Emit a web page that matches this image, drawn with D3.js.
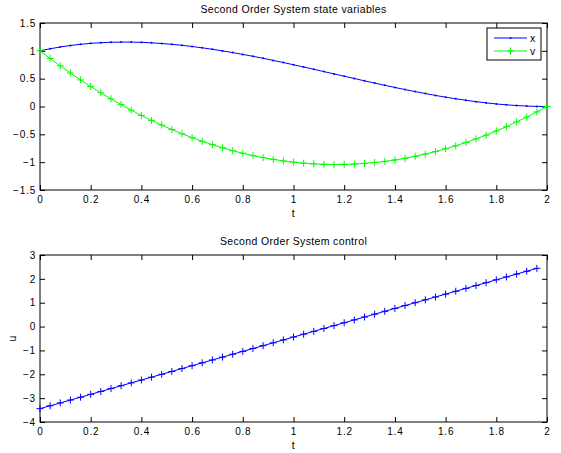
<!DOCTYPE html>
<html>
<head>
<meta charset="utf-8">
<script src="https://cdn.jsdelivr.net/npm/d3@7"></script>
<style>
  body { margin: 0; background: #fff; }
  svg { display: block; font-family: "Liberation Sans", Arial, sans-serif; }
  .tick text { font-size: 10px; fill: #000; letter-spacing: 0.8px; }
  .lbl { letter-spacing: 0.35px; }
</style>
</head>
<body>
<svg id="fig" width="561" height="453"></svg>
<script>

// time grid for the state plot
const t_state = [0, 0.04, 0.08, 0.12, 0.16, 0.2, 0.24, 0.28, 0.32, 0.36, 0.4, 0.44, 0.48, 0.52, 0.56, 0.6,
    0.64, 0.68, 0.72, 0.76, 0.8, 0.84, 0.88, 0.92, 0.96, 1, 1.04, 1.08, 1.12, 1.16, 1.2, 1.24, 1.28, 1.32,
    1.36, 1.4, 1.44, 1.48, 1.52, 1.56, 1.6, 1.64, 1.68, 1.72, 1.76, 1.8, 1.84, 1.88, 1.92, 1.96, 2];

const x_vals = [1, 1.037, 1.069, 1.096, 1.117, 1.134, 1.146, 1.154, 1.157, 1.157, 1.152, 1.144, 1.132, 1.117,
    1.099, 1.078, 1.054, 1.028, 0.999, 0.969, 0.936, 0.902, 0.866, 0.828, 0.790, 0.75, 0.710, 0.669, 0.627,
    0.586, 0.544, 0.503, 0.461, 0.421, 0.381, 0.342, 0.304, 0.268, 0.233, 0.199, 0.168, 0.139, 0.112, 0.087,
    0.065, 0.046, 0.030, 0.017, 0.008, 0.002, 0];

const v_vals = [1, 0.862, 0.730, 0.602, 0.478, 0.36, 0.246, 0.138, 0.034, -0.066, -0.16, -0.250, -0.334, -0.414,
    -0.490, -0.56, -0.626, -0.686, -0.742, -0.794, -0.84, -0.882, -0.918, -0.950, -0.978, -1, -1.018, -1.030,
    -1.038, -1.042, -1.04, -1.034, -1.022, -1.006, -0.986, -0.96, -0.930, -0.894, -0.854, -0.810, -0.76,
    -0.706, -0.646, -0.582, -0.514, -0.44, -0.362, -0.278, -0.190, -0.098, 0];

// control is piecewise on the intervals, so one point fewer
const t_ctrl = t_state.slice(0, 50);

const u_vals = [-3.44, -3.32, -3.20, -3.08, -2.96, -2.84, -2.72, -2.60, -2.48, -2.36, -2.24, -2.12, -2.00,
    -1.88, -1.76, -1.64, -1.52, -1.40, -1.28, -1.16, -1.04, -0.92, -0.80, -0.68, -0.56, -0.44, -0.32, -0.20,
    -0.08, 0.04, 0.16, 0.28, 0.40, 0.52, 0.64, 0.76, 0.88, 1.00, 1.12, 1.24, 1.36, 1.48, 1.60, 1.72, 1.84,
    1.96, 2.08, 2.20, 2.32, 2.44];

const x_ticks = [0, 0.2, 0.4, 0.6, 0.8, 1, 1.2, 1.4, 1.6, 1.8, 2];
const y_ticks_state = [-1.5, -1, -0.5, 0, 0.5, 1, 1.5];
const y_ticks_ctrl = [-4, -3, -2, -1, 0, 1, 2, 3];

const titles = ['Second Order System state variables', 'Second Order System control'];
const legend_labels = ['x', 'v'];

const svg = d3.select('#fig');

function make_axes(box, ydomain, yticks, title, xlabel, ylabel) {

    const g = svg.append('g');

    const x = d3.scaleLinear().domain([0, 2]).range([box.left, box.right]);
    const y = d3.scaleLinear().domain(ydomain).range([box.bottom, box.top]);
    const tl = 5;

    const fmt = d => d3.format('')(d);

    // inward ticks on all four sides
    g.append('g').attr('transform', `translate(0,${box.bottom})`)
        .call(d3.axisBottom(x).tickValues(x_ticks).tickFormat(fmt).tickSizeInner(-tl).tickSizeOuter(0).tickPadding(6));
    g.append('g').attr('transform', `translate(0,${box.top})`)
        .call(d3.axisTop(x).tickValues(x_ticks).tickFormat('').tickSizeInner(-tl).tickSizeOuter(0));
    g.append('g').attr('transform', `translate(${box.left},0)`)
        .call(d3.axisLeft(y).tickValues(yticks).tickFormat(fmt).tickSizeInner(-tl).tickSizeOuter(0).tickPadding(4));
    g.append('g').attr('transform', `translate(${box.right},0)`)
        .call(d3.axisRight(y).tickValues(yticks).tickFormat('').tickSizeInner(-tl).tickSizeOuter(0));

    g.selectAll('.domain').remove();
    g.selectAll('.tick line').attr('stroke', '#000');

    g.append('rect')
        .attr('x', box.left).attr('y', box.top)
        .attr('width', box.right - box.left).attr('height', box.bottom - box.top)
        .attr('fill', 'none').attr('stroke', '#000').attr('stroke-width', 1);

    g.append('text').classed('lbl', true)
        .attr('x', (box.left + box.right) / 2).attr('y', box.top - 10)
        .attr('text-anchor', 'middle').attr('font-size', 10.5)
        .text(title);

    g.append('text').classed('lbl', true)
        .attr('x', (box.left + box.right) / 2).attr('y', box.bottom + 27)
        .attr('text-anchor', 'middle').attr('font-size', 10.5)
        .text(xlabel);

    if (ylabel) {
        g.append('text').classed('lbl', true)
            .attr('transform', `translate(${box.left - 24},${(box.top + box.bottom) / 2}) rotate(-90)`)
            .attr('text-anchor', 'middle').attr('font-size', 10.5)
            .text(ylabel);
    }

    return { g, x, y };
}

function plus_markers(g, pts, color, r) {
    g.selectAll(null).data(pts).join('path')
        .attr('d', d => `M${d[0] - r},${d[1]}H${d[0] + r}M${d[0]},${d[1] - r}V${d[1] + r}`)
        .attr('stroke', color).attr('stroke-width', 1).attr('fill', 'none');
}

function dot_markers(g, pts, color) {
    g.selectAll(null).data(pts).join('circle')
        .attr('cx', d => d[0]).attr('cy', d => d[1]).attr('r', 1)
        .attr('fill', color);
}

// upper plot: state variables
const ax_top = make_axes({ left: 40, right: 547, top: 23, bottom: 190 }, [-1.5, 1.5], y_ticks_state,
    titles[0], 't', null);

const line_top = d3.line().x(d => ax_top.x(d[0])).y(d => ax_top.y(d[1]));
const x_series = t_state.map((t, i) => [t, x_vals[i]]);
const v_series = t_state.map((t, i) => [t, v_vals[i]]);

ax_top.g.append('path').datum(x_series).attr('d', line_top)
    .attr('fill', 'none').attr('stroke', '#0000ff').attr('stroke-width', 1);
dot_markers(ax_top.g, x_series.map(d => [ax_top.x(d[0]), ax_top.y(d[1])]), '#0000ff');

ax_top.g.append('path').datum(v_series).attr('d', line_top)
    .attr('fill', 'none').attr('stroke', '#00ff00').attr('stroke-width', 1);
plus_markers(ax_top.g, v_series.map(d => [ax_top.x(d[0]), ax_top.y(d[1])]), '#00ff00', 3.5);

// legend
const lg = ax_top.g.append('g');
lg.append('rect').attr('x', 487).attr('y', 28).attr('width', 54).attr('height', 32)
    .attr('fill', '#fff').attr('stroke', '#000').attr('stroke-width', 1);
[['#0000ff', 38], ['#00ff00', 51]].forEach((c, i) => {
    lg.append('line').attr('x1', 494).attr('x2', 527).attr('y1', c[1]).attr('y2', c[1])
        .attr('stroke', c[0]).attr('stroke-width', 1);
    if (i == 0) dot_markers(lg, [[510.5, c[1]]], c[0]);
    else plus_markers(lg, [[510.5, c[1]]], c[0], 3.5);
    lg.append('text').attr('x', 530).attr('y', c[1] + 3.5).attr('font-size', 10.5).text(legend_labels[i]);
});

// lower plot: control
const ax_bot = make_axes({ left: 40, right: 547, top: 255, bottom: 422 }, [-4, 3], y_ticks_ctrl,
    titles[1], 't', 'u');

const u_series = t_ctrl.map((t, i) => [t, u_vals[i]]);
const line_bot = d3.line().x(d => ax_bot.x(d[0])).y(d => ax_bot.y(d[1]));

ax_bot.g.append('path').datum(u_series).attr('d', line_bot)
    .attr('fill', 'none').attr('stroke', '#0000ff').attr('stroke-width', 1);
plus_markers(ax_bot.g, u_series.map(d => [ax_bot.x(d[0]), ax_bot.y(d[1])]), '#0000ff', 3.5);

</script>
</body>
</html>
